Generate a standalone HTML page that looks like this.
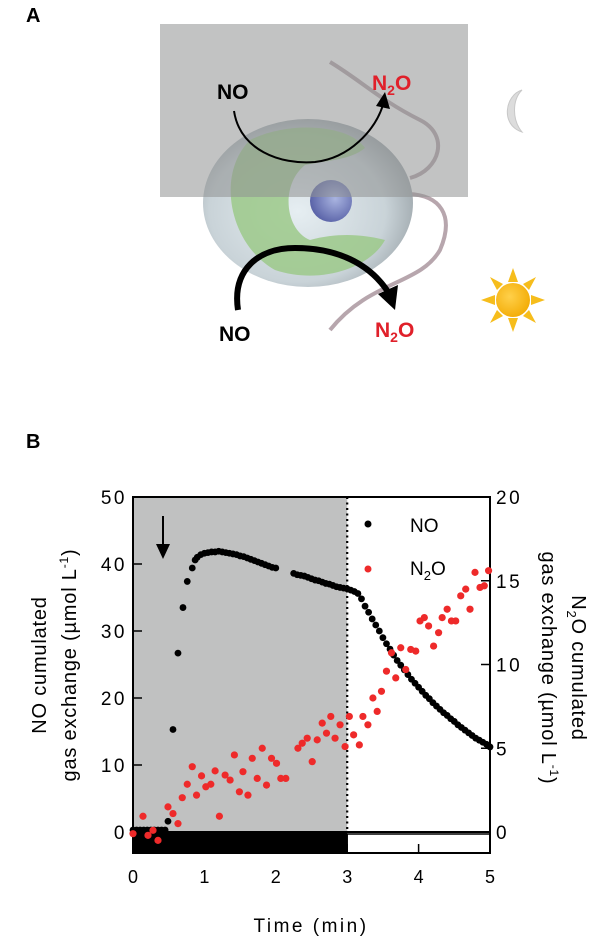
<!DOCTYPE html>
<html><head><meta charset="utf-8"><style>
body{margin:0;background:#fff;width:614px;height:943px;overflow:hidden;font-family:"Liberation Sans",sans-serif}
</style></head><body>
<svg width="614" height="943" viewBox="0 0 614 943" xmlns="http://www.w3.org/2000/svg">
<defs>
<radialGradient id="cellg" cx="0.45" cy="0.55" r="0.6"><stop offset="0" stop-color="#e6eef2"/><stop offset="0.7" stop-color="#c9d3d8"/><stop offset="1" stop-color="#9aa3a8"/></radialGradient>
<radialGradient id="nucg" cx="0.6" cy="0.45" r="0.6"><stop offset="0" stop-color="#a9b4e0"/><stop offset="1" stop-color="#5a63a8"/></radialGradient>
<radialGradient id="sung" cx="0.4" cy="0.4" r="0.7"><stop offset="0" stop-color="#ffd04a"/><stop offset="1" stop-color="#f2a900"/></radialGradient>
</defs>
<text x="26" y="22" font-size="20" font-weight="bold">A</text>
<text x="26" y="448" font-size="20" font-weight="bold">B</text>
<g>
<path d="M330 62 C360 80 380 100 420 120 C450 135 440 170 410 178" fill="none" stroke="#b7a6ad" stroke-width="4"/>
<path d="M408 194 C440 195 455 215 440 250 C420 285 370 280 330 330" fill="none" stroke="#b7a6ad" stroke-width="4"/>
<ellipse cx="308" cy="203" rx="105" ry="84" fill="url(#cellg)"/>
<path d="M250 140 C290 120 350 125 365 148 C350 160 330 160 305 165 C280 185 285 230 310 240 C340 232 365 235 385 240 C370 268 320 285 275 270 C230 245 215 175 250 140 Z" fill="#9cc98a" opacity="0.85"/>
<circle cx="331" cy="201" r="21" fill="url(#nucg)"/>
<rect x="160" y="24" width="308" height="173" fill="#8f9291" opacity="0.55"/>
<path d="M234 111 C240 150 280 165 315 162 C350 158 375 130 383 105" fill="none" stroke="#000" stroke-width="2"/>
<path d="M376 106 L385 92 L390 109 Z" fill="#000"/>
<path d="M238 310 C232 270 258 248 295 248 C335 248 370 262 390 295" fill="none" stroke="#000" stroke-width="6"/>
<path d="M378 294 L398 285 L395 310 Z" fill="#000"/>
<text x="217" y="99" font-size="21" font-weight="bold">NO</text>
<text x="372" y="90" font-size="21" font-weight="bold" fill="#e0202a">N<tspan font-size="14" dy="5">2</tspan><tspan dy="-5">O</tspan></text>
<text x="219" y="341" font-size="21" font-weight="bold">NO</text>
<text x="375" y="337" font-size="21" font-weight="bold" fill="#e0202a">N<tspan font-size="14" dy="5">2</tspan><tspan dy="-5">O</tspan></text>
<path d="M522 90 C505 95 500 125 522 132 C512 120 512 100 522 90 Z" fill="#dcdcdc" stroke="#c8c8c8"/>
<g fill="#f6bd1c">
<polygon points="513,268 508,282 518,282"/><polygon points="513,332 508,318 518,318"/>
<polygon points="481,300 495,295 495,305"/><polygon points="545,300 531,295 531,305"/>
<polygon points="490,277 497,290 503,284"/><polygon points="536,323 529,310 523,316"/>
<polygon points="536,277 523,284 529,290"/><polygon points="490,323 503,316 497,310"/>
<circle cx="513" cy="300" r="17" fill="url(#sung)"/>
</g>
</g>
<g id="chart"></g>
</svg>
<script>
const noTimes=[0,0.05,0.1,0.15,0.2,0.25,0.3,0.35,0.4,0.45,0.49,0.56,0.63,0.70,0.76,0.83,0.87,0.9,0.95,1.0,1.05,1.1,1.15,1.2,1.25,1.3,1.35,1.4,1.45,1.5,1.55,1.6,1.65,1.7,1.75,1.8,1.85,1.9,1.95,2.0,2.25,2.3,2.35,2.4,2.45,2.5,2.55,2.6,2.65,2.7,2.75,2.8,2.85,2.9,2.95,3.0,3.05,3.1,3.15,3.2,3.25,3.3,3.35,3.4,3.45,3.5,3.55,3.6,3.65,3.7,3.75,3.8,3.85,3.9,3.95,4.0,4.05,4.1,4.15,4.2,4.25,4.3,4.35,4.4,4.45,4.5,4.55,4.6,4.65,4.7,4.75,4.8,4.85,4.9,4.95,5.0];
const noValues=[0.3,0.3,0.3,0.3,0.3,0.3,0.3,0.3,0.3,0.3,1.6,15.3,26.7,33.5,37.4,39.4,40.6,41.0,41.4,41.6,41.7,41.8,41.8,41.9,41.8,41.7,41.6,41.5,41.4,41.2,41.1,40.9,40.7,40.5,40.3,40.1,39.9,39.7,39.5,39.4,38.6,38.4,38.3,38.2,38.0,37.8,37.6,37.5,37.3,37.1,37.0,36.8,36.6,36.5,36.4,36.3,36.1,35.9,35.6,34.8,33.7,32.8,31.8,30.9,30.0,29.0,28.1,27.3,26.4,25.6,24.9,24.2,23.5,22.8,22.2,21.6,21.0,20.4,19.9,19.3,18.8,18.3,17.8,17.4,16.9,16.5,16.0,15.6,15.2,14.8,14.4,14.0,13.7,13.4,13.1,12.7];
const n2oTimes=[0,0.14,0.21,0.28,0.35,0.49,0.56,0.63,0.69,0.76,0.83,0.89,0.96,1.02,1.09,1.15,1.21,1.29,1.36,1.42,1.49,1.54,1.61,1.67,1.74,1.81,1.87,1.94,2.01,2.07,2.14,2.31,2.37,2.44,2.51,2.58,2.65,2.71,2.77,2.83,2.90,2.97,3.03,3.09,3.17,3.22,3.29,3.36,3.42,3.48,3.55,3.62,3.68,3.75,3.82,3.89,3.96,4.02,4.08,4.14,4.21,4.28,4.33,4.40,4.46,4.52,4.59,4.66,4.72,4.79,4.86,4.92,4.98];
const n2oValues=[-0.1,0.94,-0.2,0.1,-0.5,1.5,1.1,0.5,2.05,2.85,3.9,2.2,3.35,2.7,2.85,3.65,0.94,3.4,3.1,4.6,2.4,3.6,2.2,4.4,3.2,5.0,2.8,4.4,4.1,3.2,3.2,5.0,5.3,5.6,4.2,5.5,6.5,5.9,6.9,5.6,6.4,5.1,6.9,5.8,5.2,6.9,6.4,8.0,7.2,8.4,9.6,10.7,9.2,11.0,9.7,10.9,10.8,12.6,12.8,12.3,11.1,11.9,12.8,13.3,12.6,12.6,14.1,14.5,13.3,15.5,14.6,14.7,15.6];
const xTicks=[0,1,2,3,4,5];
const leftTicks=[0,10,20,30,40,50];
const rightTicks=[0,5,10,15,20];
const darkEnd=3;

const NS="http://www.w3.org/2000/svg";
const g=document.getElementById('chart');
const X0=133,X1=490,Y0=832,Y1=497;
const xs=t=>X0+(X1-X0)*t/5;
const yl=v=>Y0-(Y0-Y1)*v/50;
const yr=v=>Y0-(Y0-Y1)*v/20;
function mk(tag,attrs,parent){const e=document.createElementNS(NS,tag);for(const k in attrs)e.setAttribute(k,attrs[k]);(parent||g).appendChild(e);return e;}

let e=mk('rect',{x:X0,y:Y1,width:xs(darkEnd)-X0,height:Y0-Y1,fill:'#c0c1c1'});


e=mk('line',{x1:xs(darkEnd),y1:Y1,x2:xs(darkEnd),y2:Y0,stroke:'#000','stroke-width':2.2,'stroke-dasharray':'2 3.5'});


e=mk('rect',{x:X0,y:Y0,width:xs(darkEnd)-X0,height:21,fill:'#000'});


e=mk('rect',{x:xs(darkEnd),y:Y0+2,width:X1-xs(darkEnd),height:19,fill:'#fff',stroke:'#000','stroke-width':1.5});


e=mk('path',{d:`M${X0} ${Y1} H${X1} V${Y0+21} H${X0} Z`,fill:'none',stroke:'#000','stroke-width':2});


e=mk('line',{x1:X0,y1:Y0,x2:X1,y2:Y0,stroke:'#000','stroke-width':2});



leftTicks.forEach(v=>{
 mk('line',{x1:X0,y1:yl(v),x2:X0+9,y2:yl(v),stroke:'#000','stroke-width':1.5});
 const t=mk('text',{x:X0-6,y:yl(v)+7,'text-anchor':'end','font-size':19,'letter-spacing':2.5});
 t.textContent=v;
 
 
});
rightTicks.forEach(v=>{
 mk('line',{x1:X1,y1:yr(v),x2:X1-9,y2:yr(v),stroke:'#000','stroke-width':1.5});
 const t=mk('text',{x:X1+6,y:yr(v)+7,'font-size':19,'letter-spacing':2.5});
 t.textContent=v;
 
 
});
xTicks.forEach(v=>{
 mk('line',{x1:xs(v),y1:Y0+21,x2:xs(v),y2:Y0+12,stroke:'#000','stroke-width':1.5});
 const t=mk('text',{x:xs(v),y:Y0+51,'text-anchor':'middle','font-size':18});
 t.textContent=v;
 
 
});

noTimes.forEach((t,i)=>{
 const c=mk('circle',{cx:xs(t),cy:yl(noValues[i]),r:3.4,fill:'#000'});
 
 
});
n2oTimes.forEach((t,i)=>{
 const c=mk('circle',{cx:xs(t),cy:yr(n2oValues[i]),r:3.6,fill:'#ee2a2a'});
 
 
});
</script>
<svg style="position:absolute;left:0;top:0" width="614" height="943" xmlns="http://www.w3.org/2000/svg">
<line x1="163" y1="516" x2="163" y2="548" stroke="#000" stroke-width="2"/>
<path d="M156 544 L170 544 L163 559 Z" fill="#000"/>
<circle cx="368" cy="524" r="3.5" fill="#000"/>
<text x="410" y="532" font-size="19">NO</text>
<circle cx="368" cy="569" r="3.5" fill="#ee2a2a"/>
<text x="410" y="575" font-size="19">N<tspan font-size="13" dy="5">2</tspan><tspan dy="-5">O</tspan></text>
<text x="311" y="932" text-anchor="middle" font-size="19" letter-spacing="2.5">Time (min)</text>
<g transform="translate(46,665) rotate(-90)">
<text x="0" y="0" text-anchor="middle" font-size="20" letter-spacing="0.8">NO cumulated</text>
<text x="0" y="30" text-anchor="middle" font-size="20" letter-spacing="0.8">gas exchange (µmol L<tspan font-size="12" dy="-8">-1</tspan><tspan dy="8">)</tspan></text>
</g>
<g transform="translate(572,668) rotate(90)">
<text x="0" y="0" text-anchor="middle" font-size="20" letter-spacing="0.8">N<tspan font-size="13" dy="5">2</tspan><tspan dy="-5">O cumulated</tspan></text>
<text x="0" y="30" text-anchor="middle" font-size="20" letter-spacing="0.8">gas exchange (µmol L<tspan font-size="12" dy="-8">-1</tspan><tspan dy="8">)</tspan></text>
</g>
</svg>
</body></html>
